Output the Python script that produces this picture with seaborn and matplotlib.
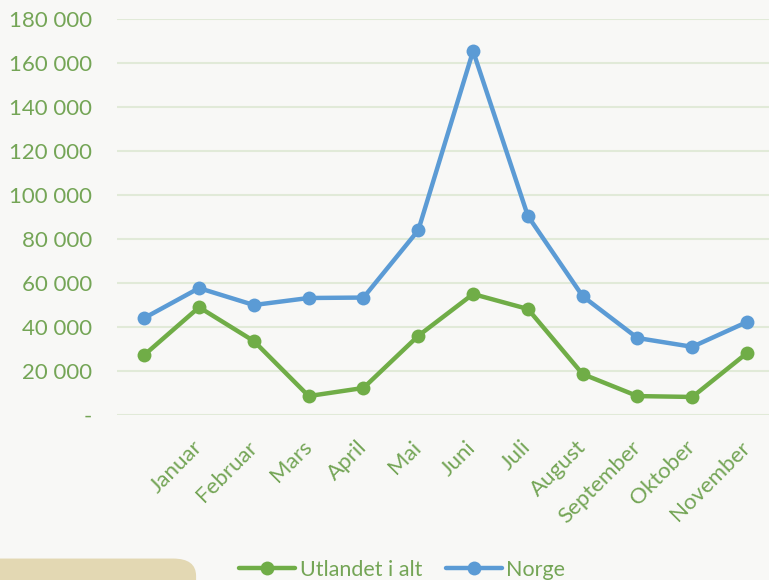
import matplotlib
matplotlib.use('Agg')
import matplotlib.pyplot as plt
from matplotlib.patches import FancyBboxPatch
from matplotlib.ticker import FuncFormatter
import pandas as pd
import seaborn as sns

months = ['', 'Januar', 'Februar', 'Mars', 'April', 'Mai', 'Juni', 'Juli',
          'August', 'September', 'Oktober', 'November']
utlandet = [27300, 49000, 33600, 8600, 12300, 36000, 55000, 48200, 18600, 8600, 8200, 28200]
norge = [44100, 57700, 50000, 53200, 53400, 84000, 165500, 90500, 54000, 35000, 31000, 42300]
series = ['Utlandet i alt', 'Norge']
colors = ['#70AD47', '#5B9BD5']

df = pd.DataFrame({
    'pos': list(range(len(months))) * 2,
    'verdi': utlandet + norge,
    'serie': [series[0]] * len(months) + [series[1]] * len(months),
})

sns.set_style('white')
plt.rcParams['font.family'] = ['Lato', 'DejaVu Sans']
bg = '#F8F8F6'
txt = '#74A556'

fig = plt.figure(figsize=(7.69, 5.80), dpi=100, facecolor=bg)
ax = fig.add_axes([0.152, 0.2845, 0.848, 0.6825], facecolor=bg)

sns.lineplot(data=df, x='pos', y='verdi', hue='serie', palette=colors,
             marker='o', markersize=10, markeredgewidth=0, linewidth=3.2,
             sort=False, ax=ax, legend=False)

ax.set_ylim(0, 180000)
ax.set_xlim(-0.5, 11.4)
ax.set_yticks(range(0, 180001, 20000))
ax.yaxis.set_major_formatter(FuncFormatter(
    lambda v, p: '-' if v == 0 else f'{int(v):,}'.replace(',', ' ')))
ax.set_xticks(range(len(months)))
ax.set_xticklabels(months, rotation=45, ha='right', va='center',
                   rotation_mode='anchor')
ax.tick_params(axis='x', length=0, pad=21, labelsize=16, labelcolor=txt)
ax.tick_params(axis='y', length=0, pad=18, labelsize=16, labelcolor=txt)
ax.grid(axis='y', color='#E1EAD8', linewidth=1.5)
ax.grid(axis='x', visible=False)
ax.set_axisbelow(True)
for s in ax.spines.values():
    s.set_visible(False)
ax.set_xlabel('')
ax.set_ylabel('')

handles = [plt.Line2D([], [], color=c, marker='o', markersize=10,
                      markeredgewidth=0, linewidth=3.2) for c in colors]
leg = fig.legend(handles, series, loc='center', bbox_to_anchor=(0.523, 0.018),
                 ncol=2, frameon=False, fontsize=15.5, handlelength=2.6,
                 handletextpad=0.2, columnspacing=1.1)
for t in leg.get_texts():
    t.set_color(txt)

fig.patches.append(FancyBboxPatch((-0.05, -0.05), 0.305, 0.087,
                                  boxstyle='round,pad=0,rounding_size=0.03',
                                  transform=fig.transFigure, facecolor='#E3D8B3',
                                  edgecolor='none', zorder=0))

fig.savefig('out.png', dpi=100, facecolor=bg)
